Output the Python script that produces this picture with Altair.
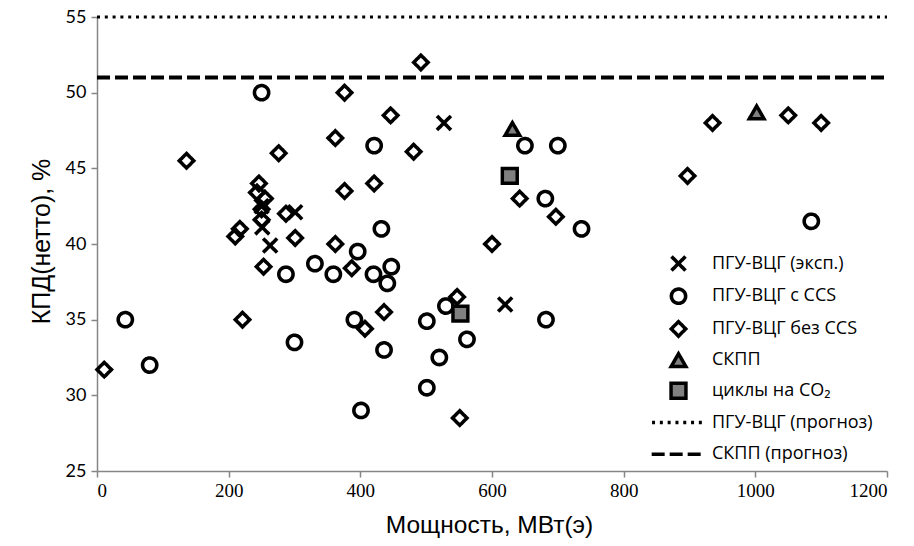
import altair as alt
import pandas as pd

# ---------------- data ----------------
categories = ["ПГУ-ВЦГ (эксп.)", "ПГУ-ВЦГ с CCS", "ПГУ-ВЦГ без CCS", "СКПП",
              "циклы на CO₂", "ПГУ-ВЦГ (прогноз)", "СКПП (прогноз)"]

cross_x = [251, 250, 263, 301, 527, 620]
cross_y = [41.1, 42.5, 39.9, 42.1, 48.0, 36.0]

ccs_x = [43, 80, 250, 287, 300, 331, 359, 396, 391, 401, 420, 447, 441, 432,
         421, 436, 501, 530, 520, 501, 562, 650, 700, 681, 736, 682, 1085]
ccs_y = [35.0, 32.0, 50.0, 38.0, 33.5, 38.7, 38.0, 39.5, 35.0, 29.0, 38.0, 38.5,
         37.4, 41.0, 46.5, 33.0, 34.9, 35.9, 32.5, 30.5, 33.7, 46.5, 46.5, 43.0,
         41.0, 35.0, 41.5]

noccs_x = [11, 136, 210, 217, 221, 246, 243, 255, 250, 250, 253, 276, 287, 301,
           362, 376, 376, 362, 387, 421, 446, 492, 481, 436, 407, 547, 551, 600,
           642, 697, 897, 935, 1050, 1100]
noccs_y = [31.7, 45.5, 40.5, 41.0, 35.0, 44.0, 43.4, 43.0, 42.3, 41.6, 38.5, 46.0,
           42.0, 40.4, 47.0, 50.0, 43.5, 40.0, 38.4, 44.0, 48.5, 52.0, 46.1, 35.5,
           34.4, 36.5, 28.5, 40.0, 43.0, 41.8, 44.5, 48.0, 48.5, 48.0]

skpp_x = [631, 1002]
skpp_y = [47.6, 48.7]

co2_x = [627, 552]
co2_y = [44.5, 35.4]

forecast_names = ["ПГУ-ВЦГ (прогноз)", "СКПП (прогноз)"]
forecast_values = [55, 51]
x_ticks = [0, 200, 400, 600, 800, 1000, 1200]
y_ticks = [25, 30, 35, 40, 45, 50, 55]

# ---------------- tables ----------------
rows = []
for name, xs, ys in [(categories[0], cross_x, cross_y),
                     (categories[1], ccs_x, ccs_y),
                     (categories[2], noccs_x, noccs_y),
                     (categories[3], skpp_x, skpp_y),
                     (categories[4], co2_x, co2_y)]:
    for xv, yv in zip(xs, ys):
        rows.append({"series": name, "x": xv, "y": yv})
points = pd.DataFrame(rows)

lines = pd.DataFrame({"series": forecast_names, "y": forecast_values,
                      "x0": [0, 0], "x1": [1200, 1200]})

# ---------------- styling ----------------
CROSS = "M-1,-1L1,1M-1,1L1,-1"
HLINE = "M-3.5,0L3.5,0M0,-1M0,1"
GRAY = "#808080"
AX = "#868686"

shape_scale = alt.Scale(domain=categories,
                        range=[CROSS, "circle", "diamond", "triangle-up", "square", HLINE, HLINE])
fill_scale = alt.Scale(domain=categories,
                       range=["transparent", "transparent", "transparent", GRAY, GRAY,
                              "transparent", "transparent"])
stroke_scale = alt.Scale(domain=categories, range=["black"] * 7)
size_scale = alt.Scale(domain=categories, range=[196, 235, 205, 230, 196, 225, 225])
sw_scale = alt.Scale(domain=categories, range=[3.6, 3.4, 3.0, 2.4, 3.2, 3, 4])
dash_scale = alt.Scale(domain=categories,
                       range=[[1, 0], [1, 0], [1, 0], [1, 0], [1, 0], [3, 4.8], [13, 5]])

legend = alt.Legend(title=None, orient="none", legendX=572, legendY=237.5,
                    labelFont="Open Sans", labelFontSize=18, labelColor="black",
                    rowPadding=2.7, labelOffset=24, padding=0, labelLimit=300)

x_enc = alt.X("x:Q", scale=alt.Scale(domain=[0, 1200], nice=False),
              axis=alt.Axis(values=x_ticks, format="d", title="Мощность, МВт(э)",
                            titleX=392))
y_enc = alt.Y("y:Q", scale=alt.Scale(domain=[25, 55], nice=False, zero=False),
              axis=alt.Axis(values=y_ticks, format="d", title="КПД(нетто), %",
                            titleY=224))

pts = alt.Chart(points).mark_point(opacity=1).encode(
    x=x_enc,
    y=y_enc,
    shape=alt.Shape("series:N", scale=shape_scale, legend=legend, sort=categories),
    fill=alt.Fill("series:N", scale=fill_scale, sort=categories),
    stroke=alt.Stroke("series:N", scale=stroke_scale, sort=categories),
    size=alt.Size("series:N", scale=size_scale, sort=categories),
    strokeWidth=alt.StrokeWidth("series:N", scale=sw_scale, sort=categories),
    strokeDash=alt.StrokeDash("series:N", scale=dash_scale, sort=categories),
)

dotted = alt.Chart(lines[lines["series"] == forecast_names[0]]).mark_rule(
    color="black", strokeWidth=3, strokeDash=[3, 4.8]).encode(
    x="x0:Q", x2="x1:Q", y="y:Q")
dashed = alt.Chart(lines[lines["series"] == forecast_names[1]]).mark_rule(
    color="black", strokeWidth=4, strokeDash=[13, 5]).encode(
    x="x0:Q", x2="x1:Q", y="y:Q")

chart = alt.layer(dotted, dashed, pts).properties(
    width=790, height=454,
    background="white",
    autosize=alt.AutoSizeParams(type="none"),
    padding={"left": 97, "top": 17, "right": 27, "bottom": 75},
).configure_view(stroke=None).configure_axis(
    grid=False, domainColor=AX, tickColor=AX, domainWidth=1.5, tickWidth=1.5,
    tickSize=6, labelColor="black", titleColor="black", titleFontWeight="normal",
).configure_axisX(
    labelFont="Liberation Sans Narrow", labelFontSize=19, labelPadding=4,
    titleFont="Liberation Sans", titleFontSize=24.5, titlePadding=13,
).configure_axisY(
    labelFont="Lato", labelFontSize=18, labelPadding=5,
    titleFont="Liberation Sans", titleFontSize=25, titlePadding=11,
)

chart.save("out.html", embed_options={"renderer": "svg", "actions": False})
